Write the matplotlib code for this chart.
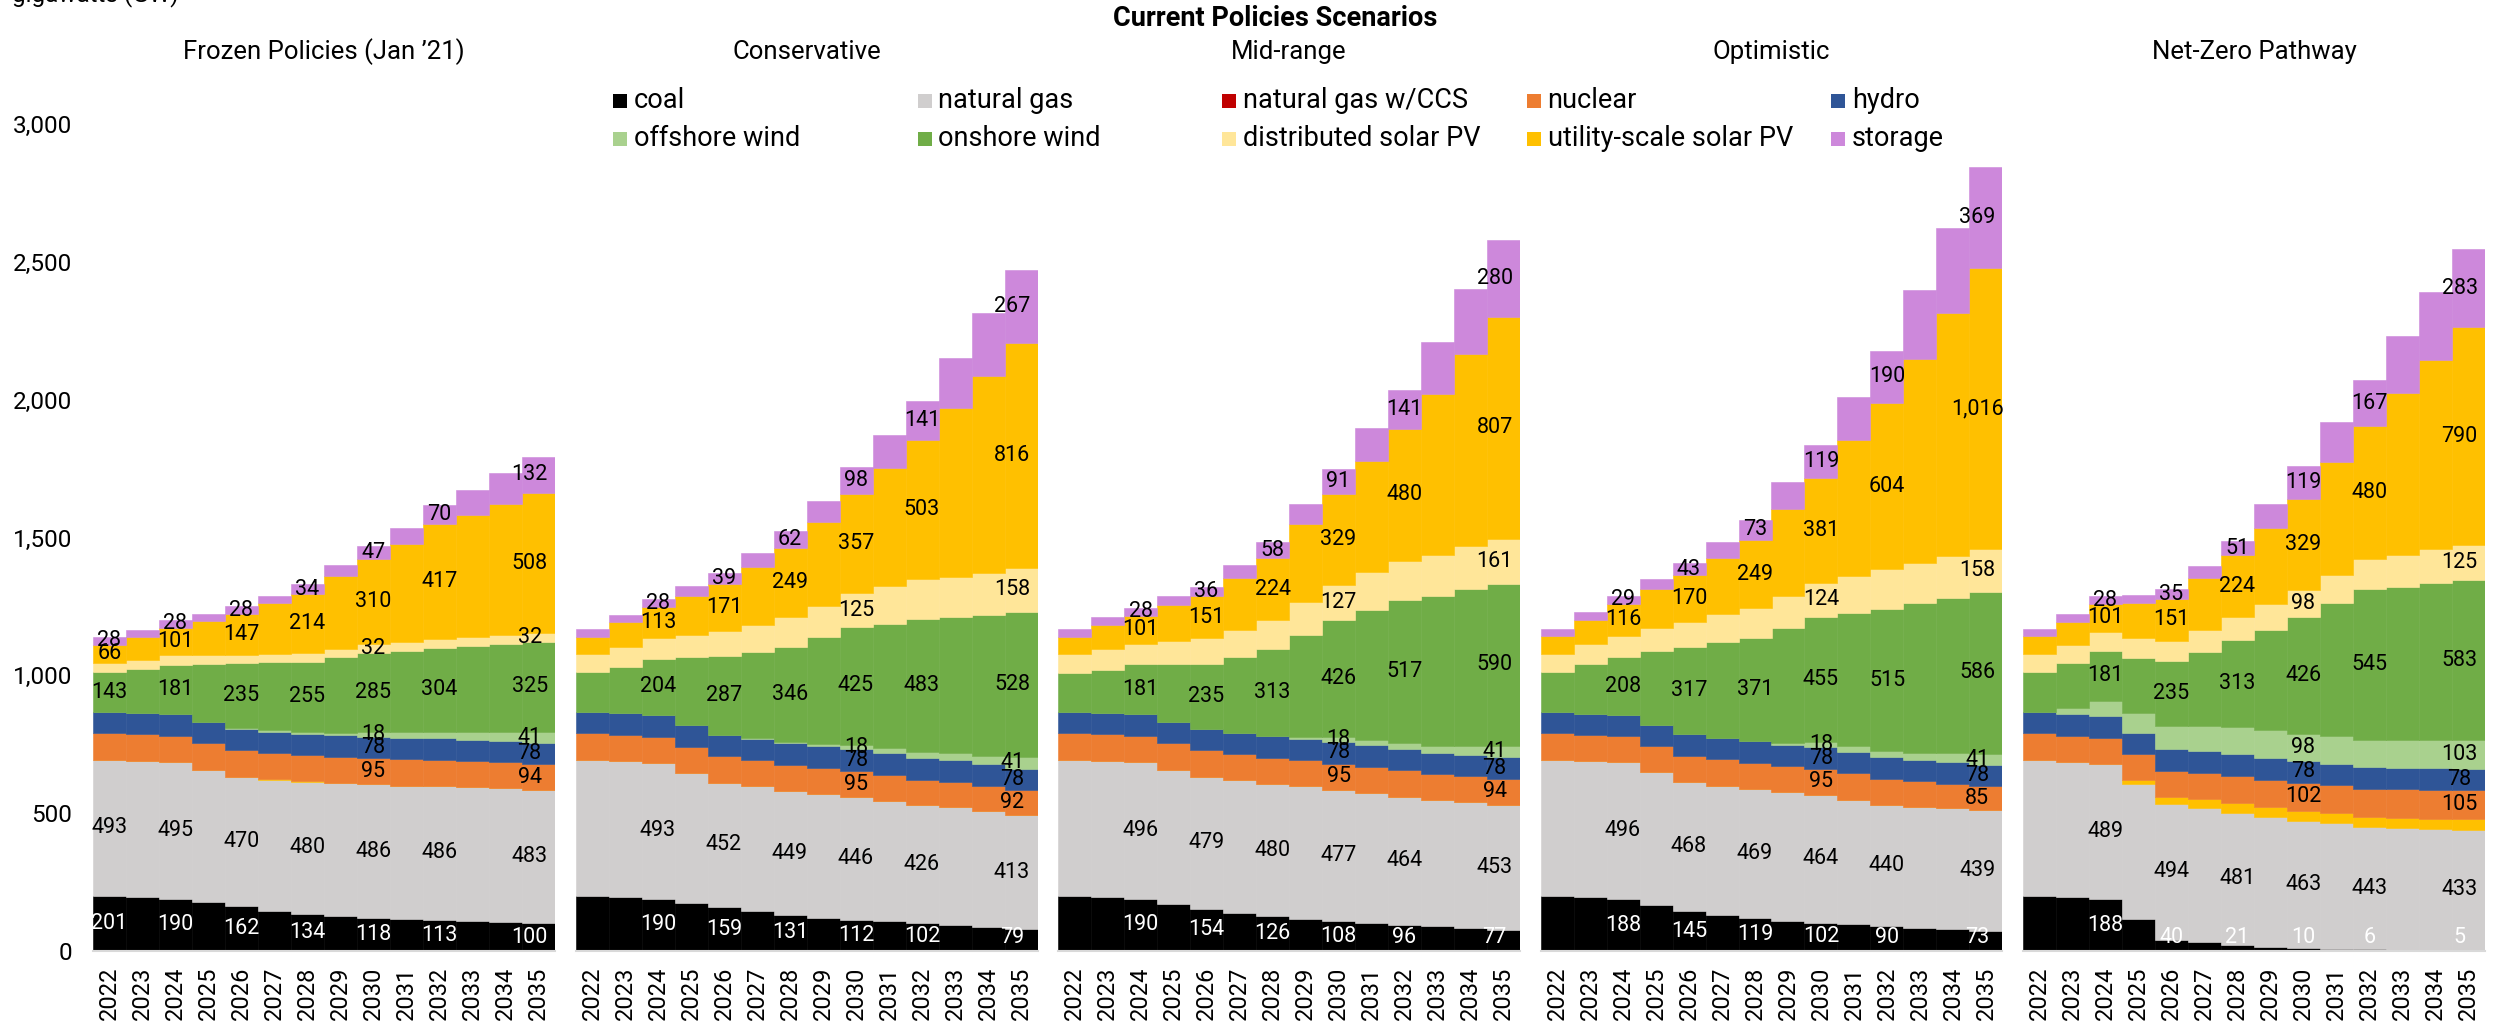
import matplotlib
matplotlib.use("Agg")
import matplotlib.pyplot as plt
from matplotlib.patches import Rectangle
import numpy as np

plt.rcParams['font.family'] = ['Roboto', 'DejaVu Sans']

years = list(range(2022, 2036))
scenarios = ["Frozen Policies (Jan \u201921)", "Conservative", "Mid-range", "Optimistic", "Net-Zero Pathway"]
series_names = ["coal", "natural gas", "natural gas w/CCS", "nuclear", "hydro",
                "offshore wind", "onshore wind", "distributed solar PV",
                "utility-scale solar PV", "storage"]

# ---------------- data (GW) ----------------
frozen_coal = [201, 196, 190, 176, 162, 146, 134, 126, 118, 115, 113, 108, 104, 100]
frozen_gas = [493, 494, 495, 482, 470, 476, 480, 482, 486, 485, 486, 486, 486, 483]
frozen_ccs = [0, 0, 0, 0, 1, 1, 1, 1, 1, 0, 0, 0, 0, 0]
frozen_nuclear = [96, 96, 95, 95, 95, 95, 95, 95, 95, 95, 95, 94, 94, 94]
frozen_hydro = [78, 78, 78, 78, 78, 78, 78, 78, 78, 78, 78, 78, 78, 78]
frozen_offshore = [0, 0, 0, 0, 2, 4, 7, 10, 18, 21, 24, 28, 34, 41]
frozen_onshore = [143, 160, 181, 210, 235, 247, 255, 273, 285, 295, 304, 312, 319, 325]
frozen_dist = [34, 33, 33, 32, 32, 32, 32, 32, 32, 32, 32, 32, 32, 32]
frozen_utility = [66, 81, 101, 123, 147, 182, 214, 262, 310, 355, 417, 445, 475, 508]
frozen_storage = [28, 27, 28, 26, 28, 28, 34, 41, 47, 57, 70, 91, 113, 132]

cons_coal = [201, 197, 190, 175, 159, 144, 131, 121, 112, 108, 102, 96, 88, 79]
cons_gas = [493, 491, 493, 471, 452, 453, 449, 448, 446, 437, 426, 425, 419, 413]
cons_ccs = [0, 0, 0, 0, 0, 0, 0, 0, 0, 0, 0, 0, 0, 0]
cons_nuclear = [96, 96, 95, 95, 95, 95, 95, 95, 95, 94, 94, 93, 92, 92]
cons_hydro = [78, 78, 78, 78, 78, 78, 78, 78, 78, 78, 78, 78, 78, 78]
cons_offshore = [0, 0, 0, 0, 0, 2, 5, 9, 18, 20, 22, 26, 32, 41]
cons_onshore = [143, 170, 204, 246, 287, 311, 346, 387, 425, 449, 483, 492, 510, 528]
cons_dist = [66, 72, 75, 81, 91, 99, 109, 115, 125, 137, 145, 148, 154, 158]
cons_utility = [63, 88, 113, 143, 171, 210, 249, 302, 357, 429, 503, 611, 713, 816]
cons_storage = [27, 28, 28, 34, 39, 51, 62, 78, 98, 120, 141, 182, 228, 267]

mid_coal = [201, 195, 190, 170, 154, 138, 126, 115, 108, 102, 96, 89, 84, 77]
mid_gas = [493, 496, 496, 488, 479, 481, 480, 482, 477, 471, 464, 459, 456, 453]
mid_ccs = [0, 0, 0, 0, 0, 0, 0, 0, 0, 0, 0, 0, 0, 0]
mid_nuclear = [95, 95, 95, 95, 95, 95, 95, 95, 95, 95, 95, 94, 94, 94]
mid_hydro = [78, 78, 78, 78, 78, 78, 78, 78, 78, 78, 78, 78, 78, 78]
mid_offshore = [0, 0, 0, 0, 0, 0, 2, 6, 18, 20, 22, 25, 30, 41]
mid_onshore = [143, 157, 181, 209, 235, 276, 313, 371, 426, 472, 517, 542, 572, 590]
mid_dist = [66, 74, 75, 85, 94, 97, 106, 119, 127, 136, 143, 150, 156, 161]
mid_utility = [63, 88, 101, 131, 151, 189, 224, 282, 329, 404, 480, 585, 697, 807]
mid_storage = [28, 28, 28, 31, 36, 48, 58, 73, 91, 118, 141, 188, 235, 280]

opt_coal = [201, 196, 188, 166, 145, 131, 119, 109, 102, 97, 90, 85, 80, 73]
opt_gas = [493, 492, 496, 482, 468, 469, 469, 466, 464, 452, 440, 438, 438, 439]
opt_ccs = [0, 0, 0, 0, 0, 0, 0, 0, 0, 0, 0, 0, 0, 0]
opt_nuclear = [95, 95, 95, 95, 95, 95, 95, 95, 95, 95, 94, 92, 89, 85]
opt_hydro = [78, 78, 78, 78, 78, 78, 78, 78, 78, 78, 78, 78, 78, 78]
opt_offshore = [0, 0, 0, 0, 0, 0, 2, 6, 18, 20, 22, 26, 32, 41]
opt_onshore = [145, 180, 208, 267, 317, 349, 371, 419, 455, 483, 515, 542, 563, 586]
opt_dist = [66, 71, 79, 85, 91, 99, 109, 115, 124, 135, 145, 148, 153, 158]
opt_utility = [63, 89, 116, 141, 170, 206, 249, 314, 381, 494, 604, 740, 881, 1016]
opt_storage = [28, 27, 29, 34, 43, 58, 73, 98, 119, 156, 190, 250, 308, 369]

nz_coal = [201, 197, 188, 116, 40, 31, 21, 15, 10, 8, 6, 5, 5, 5]
nz_gas = [493, 488, 489, 491, 494, 489, 481, 472, 463, 455, 443, 440, 436, 433]
nz_ccs = [0, 0, 0, 12, 24, 30, 36, 36, 36, 36, 37, 38, 39, 40]
nz_nuclear = [96, 96, 97, 95, 95, 97, 98, 99, 102, 103, 103, 104, 105, 105]
nz_hydro = [78, 78, 78, 78, 78, 78, 78, 78, 78, 78, 78, 78, 78, 78]
nz_offshore = [0, 23, 56, 71, 87, 93, 100, 100, 98, 99, 100, 102, 103, 103]
nz_onshore = [143, 161, 181, 201, 235, 267, 313, 366, 426, 482, 545, 553, 570, 583]
nz_dist = [65, 67, 69, 73, 73, 81, 84, 94, 98, 104, 111, 118, 121, 125]
nz_utility = [65, 85, 101, 124, 151, 188, 224, 274, 329, 408, 480, 585, 686, 790]
nz_storage = [27, 26, 28, 30, 35, 42, 51, 88, 119, 145, 167, 207, 247, 283]

panel_data = [
    [frozen_coal, frozen_gas, frozen_ccs, frozen_nuclear, frozen_hydro, frozen_offshore,
     frozen_onshore, frozen_dist, frozen_utility, frozen_storage],
    [cons_coal, cons_gas, cons_ccs, cons_nuclear, cons_hydro, cons_offshore,
     cons_onshore, cons_dist, cons_utility, cons_storage],
    [mid_coal, mid_gas, mid_ccs, mid_nuclear, mid_hydro, mid_offshore,
     mid_onshore, mid_dist, mid_utility, mid_storage],
    [opt_coal, opt_gas, opt_ccs, opt_nuclear, opt_hydro, opt_offshore,
     opt_onshore, opt_dist, opt_utility, opt_storage],
    [nz_coal, nz_gas, nz_ccs, nz_nuclear, nz_hydro, nz_offshore,
     nz_onshore, nz_dist, nz_utility, nz_storage],
]

# legend colours and bar colours (the CCS band is drawn gold in the source chart)
legend_colors = ["#000000", "#D0CECE", "#C00000", "#ED7D31", "#2F5597",
                 "#A9D18E", "#70AD47", "#FFE699", "#FFC000", "#CD88DB"]
bar_colors = ["#000000", "#D0CECE", "#FFC000", "#ED7D31", "#2F5597",
              "#A9D18E", "#70AD47", "#FFE699", "#FFC000", "#CD88DB"]

# which years / series carry value labels
basic_label_years = [2024, 2026, 2028, 2032]
full_label_years = [2030, 2035]
basic_series = [0, 1, 6, 8, 9]
full_series = [0, 1, 3, 4, 5, 6, 7, 8, 9]

# ---------------- layout ----------------
W, H = 2504, 1027
fig = plt.figure(figsize=(W / 100, H / 100), dpi=100)


def fx(px):
    return px / W


def fy(px):
    return 1 - px / H


panel_left = [93, 575.5, 1058, 1540.5, 2023]
panel_w = 462
y_zero, y_top = 951, 124

x = np.arange(len(years))
for p, (title, data) in enumerate(zip(scenarios, panel_data)):
    ax = fig.add_axes([fx(panel_left[p]), fy(y_zero), fx(panel_w), (y_zero - y_top) / H])
    cum = np.zeros(len(years))
    bottoms = []
    for s, vals in enumerate(data):
        v = np.array(vals, dtype=float)
        ax.bar(x, v, bottom=cum, width=1.0, color=bar_colors[s],
               edgecolor=bar_colors[s], linewidth=0.4)
        bottoms.append(cum.copy())
        cum = cum + v
    ax.set_xlim(-0.5, len(years) - 0.5)
    ax.set_ylim(0, 3000)

    lab_years = list(basic_label_years) + ([2022] if p == 0 else [])
    for yr in lab_years + full_label_years:
        i = years.index(yr)
        ser = full_series if yr in full_label_years else basic_series
        dx = -0.27 if i == len(years) - 1 else 0.0
        for s in ser:
            val = data[s][i]
            mid = bottoms[s][i] + val / 2
            if s == 0:
                mid = max(mid, 50)
            ax.text(i + dx, mid, f"{val:,}", ha="center", va="center",
                    fontsize=15.5, color="white" if s == 0 else "black")

    for side in ["top", "right", "left"]:
        ax.spines[side].set_visible(False)
    ax.spines["bottom"].set_color("#D9D9D9")
    ax.spines["bottom"].set_linewidth(1.5)
    ax.set_xticks(x)
    ax.set_xticklabels([str(y) for y in years], rotation=90, fontsize=17)
    ax.tick_params(axis="x", length=0, pad=11)
    if p == 0:
        ax.set_yticks(range(0, 3001, 500))
        ax.set_yticklabels([f"{t:,}" for t in range(0, 3001, 500)], fontsize=17.5)
        ax.tick_params(axis="y", length=0, pad=15)
    else:
        ax.set_yticks([])
    fig.text(fx(panel_left[p] + panel_w / 2), fy(52), title, ha="center", va="center",
             fontsize=18.5)

# overall title and unit label
fig.text(fx(1275), fy(18), "Current Policies Scenarios", ha="center", va="center",
         fontsize=19.5, fontweight="bold")
fig.text(fx(12), fy(1), "gigawatts (GW)", ha="left", va="baseline", fontsize=17.5)

# legend (2 rows x 5 columns, evenly spaced)
leg_x0, leg_dx = 613, 304.5
leg_rows = [101, 139]
sq = 14
for k, name in enumerate(series_names):
    row, col = divmod(k, 5)
    xl = leg_x0 + col * leg_dx
    yc = leg_rows[row]
    fig.patches.append(Rectangle((fx(xl), fy(yc + sq / 2)), fx(sq), sq / H,
                                 transform=fig.transFigure, facecolor=legend_colors[k],
                                 edgecolor="none"))
    fig.text(fx(xl + 21), fy(yc), name, ha="left", va="center", fontsize=19.5)

fig.savefig("out.png", dpi=100)
